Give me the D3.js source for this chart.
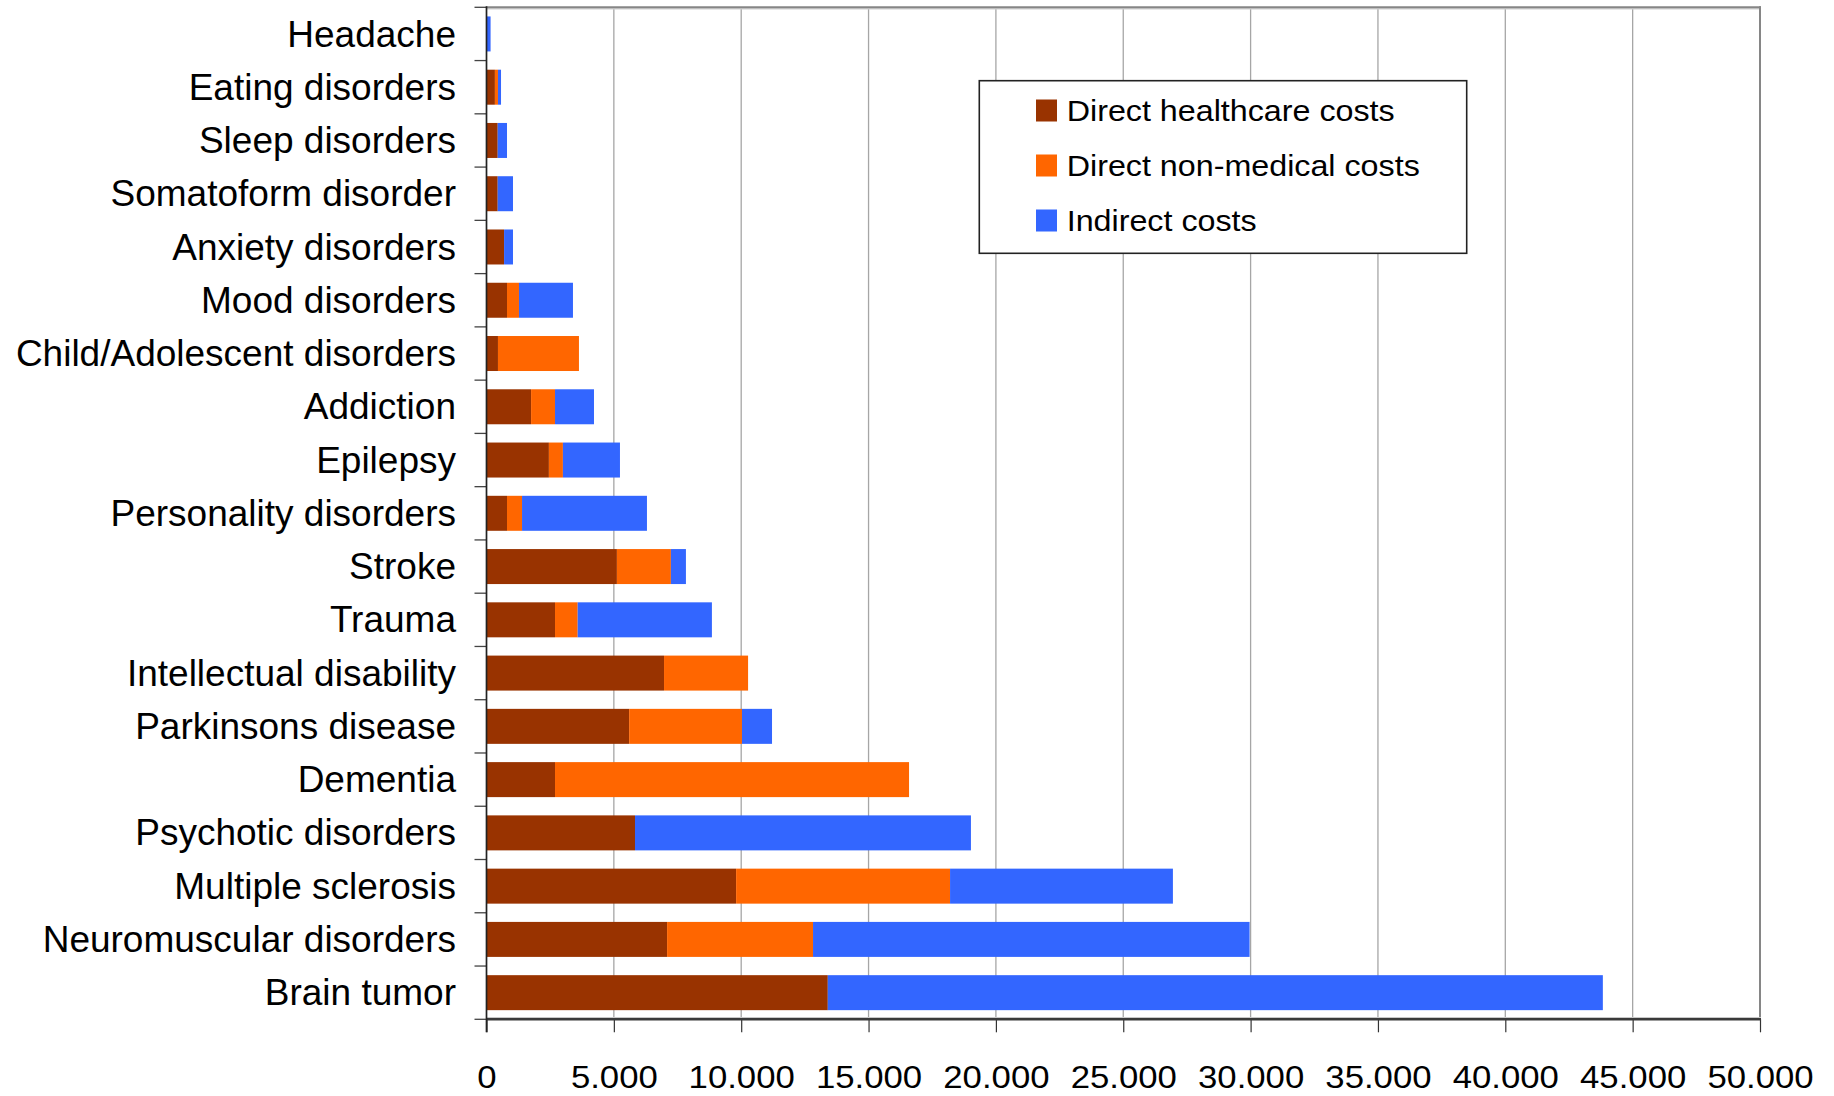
<!DOCTYPE html>
<html>
<head>
<meta charset="utf-8">
<script src="https://cdnjs.cloudflare.com/ajax/libs/d3/7.8.5/d3.min.js"></script>
<style>
  html, body { margin: 0; padding: 0; background: #ffffff; }
  svg { display: block; }
  text { font-family: "Liberation Sans", Arial, Helvetica, sans-serif; fill: #000; }
</style>
</head>
<body>
<svg id="chart" width="1834" height="1096"></svg>
<script>
// ---- data (top to bottom) ----
const categories = [
  "Headache", "Eating disorders", "Sleep disorders", "Somatoform disorder",
  "Anxiety disorders", "Mood disorders", "Child/Adolescent disorders", "Addiction",
  "Epilepsy", "Personality disorders", "Stroke", "Trauma",
  "Intellectual disability", "Parkinsons disease", "Dementia", "Psychotic disorders",
  "Multiple sclerosis", "Neuromuscular disorders", "Brain tumor"
];
const directHealthcare = [0, 330, 440, 440, 690, 805, 450, 1750, 2450, 805, 5120, 2690, 6970, 5600, 2690, 5830, 9800, 7090, 13400];
const directNonMedical = [0, 120, 0, 0, 0, 470, 3180, 940, 550, 590, 2120, 890, 3300, 4430, 13900, 0, 8400, 5730, 0];
const indirectCosts    = [160, 120, 365, 600, 350, 2120, 0, 1530, 2240, 4905, 590, 5270, 0, 1180, 0, 13190, 8750, 17140, 30430];
const seriesNames = ["Direct healthcare costs", "Direct non-medical costs", "Indirect costs"];
const seriesColors = ["#993300", "#FF6600", "#3366FF"];
const xTickValues = [0, 5000, 10000, 15000, 20000, 25000, 30000, 35000, 40000, 45000, 50000];

// ---- layout ----
const plot = { left: 486.5, right: 1760, top: 7.3, bottom: 1019.3 };
const svg = d3.select("#chart");

const rows = categories.map((c, i) => ({
  category: c,
  [seriesNames[0]]: directHealthcare[i],
  [seriesNames[1]]: directNonMedical[i],
  [seriesNames[2]]: indirectCosts[i]
}));

const x = d3.scaleLinear().domain([0, 50000]).range([plot.left, plot.right]);
const y = d3.scaleBand().domain(categories).range([plot.top, plot.bottom])
  .paddingInner(0.343).paddingOuter(0.343 / 2);
const color = d3.scaleOrdinal().domain(seriesNames).range(seriesColors);

const locale = d3.formatLocale({ decimal: ",", thousands: ".", grouping: [3], currency: ["", ""] });
const fmt = locale.format(",");

// gridlines
svg.append("g").selectAll("line").data(xTickValues.slice(1, -1)).join("line")
  .attr("x1", d => x(d)).attr("x2", d => x(d))
  .attr("y1", plot.top).attr("y2", plot.bottom)
  .attr("stroke", "#a6a6a6").attr("stroke-width", 1.3);

// stacked bars
const stack = d3.stack().keys(seriesNames);
const stacked = stack(rows);
svg.append("g").selectAll("g").data(stacked).join("g")
  .attr("fill", d => color(d.key))
  .selectAll("rect").data(d => d).join("rect")
  .attr("x", d => x(d[0]))
  .attr("y", d => y(d.data.category))
  .attr("width", d => Math.max(0, x(d[1]) - x(d[0])))
  .attr("height", y.bandwidth());

// plot frame: top and right borders
svg.append("line").attr("x1", plot.left).attr("x2", plot.right + 1)
  .attr("y1", plot.top + 1.5).attr("y2", plot.top + 1.5)
  .attr("stroke", "#d0d0d0").attr("stroke-width", 1.5);
svg.append("line").attr("x1", plot.left).attr("x2", plot.right + 1)
  .attr("y1", plot.top).attr("y2", plot.top)
  .attr("stroke", "#868686").attr("stroke-width", 2);
svg.append("line").attr("x1", plot.right).attr("x2", plot.right)
  .attr("y1", plot.top - 1).attr("y2", plot.bottom)
  .attr("stroke", "#868686").attr("stroke-width", 2);

// x axis
const xAxis = d3.axisBottom(x).tickValues(xTickValues).tickFormat(fmt).tickSize(13).tickPadding(34);
const gx = svg.append("g").attr("transform", `translate(0,${plot.bottom})`).call(xAxis);
gx.select(".domain").remove();
gx.selectAll(".tick line").attr("stroke", "#333").attr("stroke-width", 1.2);
gx.selectAll(".tick text")
  .attr("font-size", 31)
  .attr("font-family", "'Liberation Sans', Arial, sans-serif")
  .attr("fill", "#000")
  .attr("dy", "0.71em")
  .each(function () {
    const w = this.getComputedTextLength();
    d3.select(this).attr("textLength", w * 1.12).attr("lengthAdjust", "spacingAndGlyphs");
  });
svg.append("line").attr("x1", plot.left).attr("x2", plot.right + 1)
  .attr("y1", plot.bottom - 1.8).attr("y2", plot.bottom - 1.8)
  .attr("stroke", "#c8c8c8").attr("stroke-width", 1.2);
svg.append("line").attr("x1", plot.left).attr("x2", plot.right + 1)
  .attr("y1", plot.bottom).attr("y2", plot.bottom)
  .attr("stroke", "#3a3a3a").attr("stroke-width", 2.4);

// y axis: ticks at band boundaries, labels centered in bands
const boundaries = d3.range(categories.length + 1).map(i => plot.top + i * y.step());
svg.append("g").selectAll("line").data(boundaries).join("line")
  .attr("x1", plot.left - 12).attr("x2", plot.left)
  .attr("y1", d => d).attr("y2", d => d)
  .attr("stroke", "#444").attr("stroke-width", 1.3);
svg.append("line").attr("x1", plot.left).attr("x2", plot.left)
  .attr("y1", plot.top - 1).attr("y2", plot.bottom + 13)
  .attr("stroke", "#222").attr("stroke-width", 1.7);

svg.append("g").selectAll("text").data(categories).join("text")
  .attr("x", 456)
  .attr("y", d => y(d) + y.bandwidth() / 2)
  .attr("dy", "0.34em")
  .attr("text-anchor", "end")
  .attr("font-size", 37)
  .text(d => d);

// legend
const lg = svg.append("g");
lg.append("rect").attr("x", 979.3).attr("y", 80.7).attr("width", 487.4).attr("height", 172.6)
  .attr("fill", "#fff").attr("stroke", "#222").attr("stroke-width", 1.6);
const items = lg.selectAll("g.item").data(seriesNames).join("g")
  .attr("transform", (d, i) => `translate(1036,${99.5 + i * 55})`);
items.append("rect").attr("width", 21).attr("height", 22).attr("fill", d => color(d));
items.append("text").attr("x", 30.7).attr("y", 21.3)
  .attr("font-size", 30)
  .text(d => d)
  .each(function () {
    const w = this.getComputedTextLength();
    d3.select(this).attr("textLength", w * 1.075).attr("lengthAdjust", "spacingAndGlyphs");
  });
</script>
</body>
</html>
